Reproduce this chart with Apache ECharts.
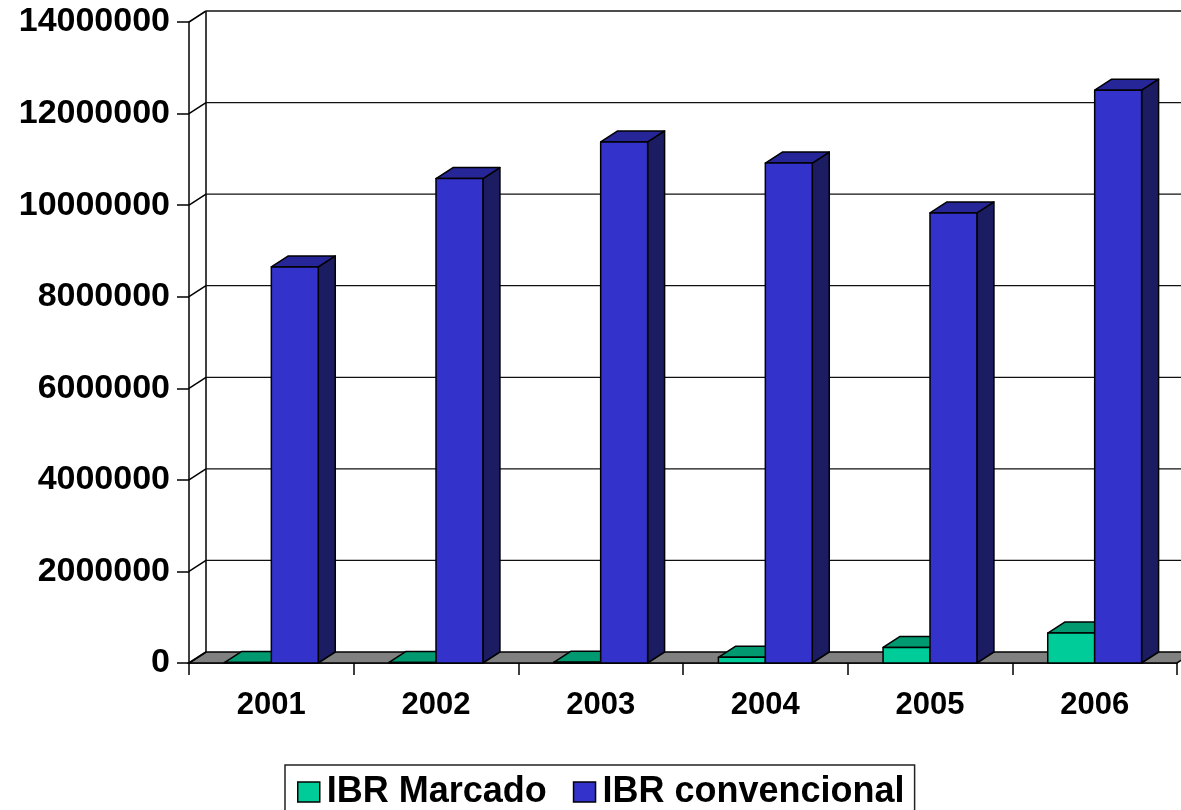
<!DOCTYPE html>
<html>
<head>
<meta charset="utf-8">
<script src="https://cdn.jsdelivr.net/npm/echarts@6/dist/echarts.min.js"></script>
<style>
html,body{margin:0;padding:0;background:#fff;}
#chart{width:1181px;height:810px;}
</style>
</head>
<body>
<div id="chart"></div>
<script>
// ---- data ----
var years = ['2001', '2002', '2003', '2004', '2005', '2006'];
var ibrMarcado = [10000, 12000, 15000, 125000, 340000, 655000];
var ibrConvencional = [8650000, 10580000, 11380000, 10920000, 9830000, 12510000];
var yTicks = [0, 2000000, 4000000, 6000000, 8000000, 10000000, 12000000, 14000000];
var seriesNames = ['IBR Marcado', 'IBR convencional'];

// ---- style ----
var DX = 17, DY = -11;
var FONT = 'Liberation Sans, Arial, sans-serif';
var colors = {
  marcado: { front: '#00CC99', top: '#009970', side: '#007755' },
  conv: { front: '#3333CC', top: '#262699', side: '#1C1C63' }
};
var BAR_FRAC = 0.285;

var chart = echarts.init(document.getElementById('chart'), null, { renderer: 'canvas' });

function wallRender(params, api) {
  var v = api.value(0);
  var p = api.coord([0, v]);
  var x0 = p[0] - api.size([1, 0])[0] / 2; // front axis x
  var y = p[1];
  var W = api.getWidth();
  var children = [];
  var ls = { stroke: '#111', lineWidth: 1.3 };
  if (v === 0) {
    var pr = api.coord([years.length - 1, 0]);
    var xr = pr[0] + api.size([1, 0])[0] / 2;
    children.push({
      type: 'polygon',
      shape: { points: [[x0, y], [x0 + DX, y + DY], [xr + DX, y + DY], [xr, y]] },
      style: { fill: '#808080', stroke: '#000', lineWidth: 1.5 }
    });
    var ptop = api.coord([0, yTicks[yTicks.length - 1]]);
    children.push({
      type: 'line',
      shape: { x1: x0 + DX, y1: ptop[1] + DY, x2: x0 + DX, y2: y + DY },
      style: { stroke: '#000', lineWidth: 1.5 }
    });
  } else {
    children.push({
      type: 'line',
      shape: { x1: x0 + DX, y1: y + DY, x2: W, y2: y + DY },
      style: ls
    });
  }
  children.push({
    type: 'line',
    shape: { x1: x0, y1: y, x2: x0 + DX, y2: y + DY },
    style: { stroke: '#000', lineWidth: 1.5 }
  });
  return { type: 'group', children: children };
}

function makeBarRender(side, pal) {
  return function (params, api) {
    var idx = api.value(0);
    var val = api.value(1);
    var base = api.coord([idx, 0]);
    var top = api.coord([idx, val]);
    var cw = api.size([1, 0])[0];
    var w = cw * BAR_FRAC;
    var x0 = side === 0 ? base[0] - w : base[0];
    var x1 = x0 + w;
    var ty = top[1], by = base[1];
    var st = { stroke: '#000', lineWidth: 1.5, lineJoin: 'round' };
    return {
      type: 'group',
      children: [
        { type: 'polygon', shape: { points: [[x1, ty], [x1 + DX, ty + DY], [x1 + DX, by + DY], [x1, by]] },
          style: Object.assign({ fill: pal.side }, st) },
        { type: 'polygon', shape: { points: [[x0, ty], [x0 + DX, ty + DY], [x1 + DX, ty + DY], [x1, ty]] },
          style: Object.assign({ fill: pal.top }, st) },
        { type: 'rect', shape: { x: x0, y: ty, width: w, height: by - ty },
          style: Object.assign({ fill: pal.front }, st) }
      ]
    };
  };
}

var option = {
  animation: false,
  backgroundColor: '#ffffff',
  grid: { left: 189, right: 4, top: 22, bottom: 147, containLabel: false },
  xAxis: {
    type: 'category',
    data: years,
    boundaryGap: true,
    axisLine: { show: true, lineStyle: { color: '#000', width: 1.5 } },
    axisTick: { show: true, length: 12, lineStyle: { color: '#000', width: 1.5 } },
    axisLabel: { color: '#000', fontFamily: FONT, fontWeight: 'bold', fontSize: 31, margin: 27 },
    splitLine: { show: false }
  },
  yAxis: {
    type: 'value',
    min: 0,
    max: 14000000,
    interval: 2000000,
    axisLine: { show: true, lineStyle: { color: '#000', width: 1.5 } },
    axisTick: { show: true, length: 12, lineStyle: { color: '#000', width: 1.5 } },
    axisLabel: { color: '#000', fontFamily: FONT, fontWeight: 'bold', fontSize: 34, margin: 19,
      formatter: function (v) { return String(v); } },
    splitLine: { show: false }
  },
  legend: {
    data: seriesNames,
    left: 285,
    top: 765,
    orient: 'horizontal',
    padding: [9, 10, 40, 12],
    itemWidth: 22,
    itemHeight: 20,
    itemGap: 26,
    borderColor: '#222',
    borderWidth: 1.5,
    icon: 'rect',
    itemStyle: { borderColor: '#000', borderWidth: 1.5 },
    textStyle: { color: '#000', fontFamily: FONT, fontWeight: 'bold', fontSize: 36, padding: [0, 0, 0, 2] },
    selectedMode: false
  },
  series: [
    {
      name: 'wall',
      type: 'custom',
      coordinateSystem: 'cartesian2d',
      clip: false,
      silent: true,
      z: 1,
      data: yTicks.map(function (v) { return [v]; }),
      encode: { y: 0 },
      renderItem: wallRender
    },
    {
      name: seriesNames[0],
      type: 'custom',
      coordinateSystem: 'cartesian2d',
      clip: false,
      z: 2,
      itemStyle: { color: colors.marcado.front },
      data: years.map(function (y, i) { return [i, ibrMarcado[i]]; }),
      encode: { x: 0, y: 1 },
      renderItem: makeBarRender(0, colors.marcado)
    },
    {
      name: seriesNames[1],
      type: 'custom',
      coordinateSystem: 'cartesian2d',
      clip: false,
      z: 3,
      itemStyle: { color: colors.conv.front },
      data: years.map(function (y, i) { return [i, ibrConvencional[i]]; }),
      encode: { x: 0, y: 1 },
      renderItem: makeBarRender(1, colors.conv)
    }
  ]
};
chart.setOption(option);
</script>
</body>
</html>
